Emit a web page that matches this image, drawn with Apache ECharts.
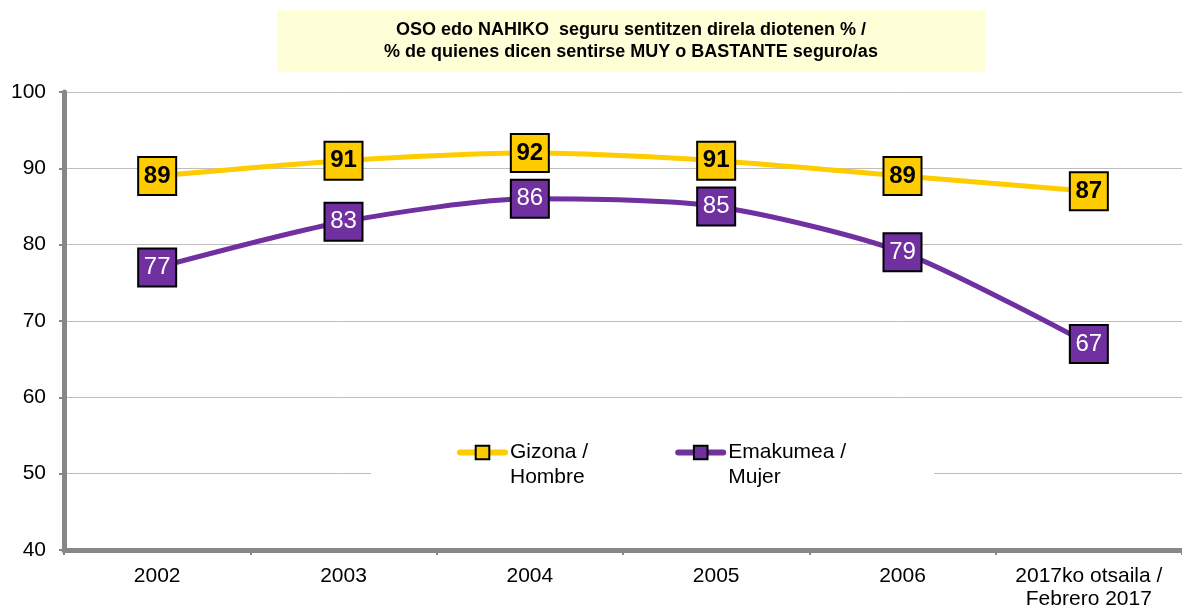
<!DOCTYPE html>
<html><head><meta charset="utf-8">
<script src="https://cdn.jsdelivr.net/npm/echarts@6/dist/echarts.min.js"></script>
<style>html,body{margin:0;padding:0;background:#fff}#c{width:1182px;height:611px}</style>
</head><body><div id="c"></div>
<script>
const categories = ['2002', '2003', '2004', '2005', '2006', '2017ko otsaila /\nFebrero 2017'];
const gizona = [89, 91, 92, 91, 89, 87];
const emakumea = [77, 83, 86, 85, 79, 67];
const seriesNames = ['Gizona /\nHombre', 'Emakumea /\nMujer'];
const titleLines = ['OSO edo NAHIKO  seguru sentitzen direla diotenen % /', '% de quienes dicen sentirse MUY o BASTANTE seguro/as'];

const chart = echarts.init(document.getElementById('c'), null, {renderer: 'canvas'});
const font = 'Liberation Sans, Arial, sans-serif';
chart.setOption({
  animation: false,
  backgroundColor: '#fff',
  textStyle: {fontFamily: font},
  graphic: [
    {type: 'rect', shape: {x: 277, y: 10, width: 708, height: 62}, style: {fill: '#FFFFD7'}, z: 0},
    {type: 'text', x: 631, y: 41, style: {text: titleLines.join('\n'), font: 'bold 18px ' + font, fill: '#000', align: 'center', verticalAlign: 'middle', lineHeight: 22}, z: 1}
  ],
  grid: {left: 64, width: 1126, top: 92, bottom: 60, containLabel: false},
  legend: {
    left: 371, top: 405,
    padding: [10, 88, 10, 86],
    backgroundColor: '#fff',
    itemGap: 87,
    itemWidth: 45, itemHeight: 17,
    formatter: function (name) { return '\n' + name; },
    lineStyle: {width: 6, cap: 'round'},
    textStyle: {fontSize: 21, color: '#000', fontFamily: font, lineHeight: 25},
    data: seriesNames,
    z: 10
  },
  xAxis: {
    type: 'category', data: categories, boundaryGap: true,
    axisLine: {lineStyle: {color: '#878787', width: 5}},
    axisTick: {show: true, interval: 0, length: 5, lineStyle: {color: '#878787', width: 2}},
    axisLabel: {interval: 0, hideOverlap: false, fontSize: 21, color: '#000', margin: 15, lineHeight: 23, fontFamily: font},
    splitLine: {show: false}
  },
  yAxis: {
    type: 'value', min: 40, max: 100, interval: 10,
    axisLine: {show: true, lineStyle: {color: '#878787', width: 5}},
    axisTick: {show: true, length: 5, lineStyle: {color: '#878787', width: 2}},
    axisLabel: {fontSize: 21, color: '#000', margin: 18, fontFamily: font},
    splitLine: {lineStyle: {color: '#BEBEBE', width: 1}}
  },
  series: [
    {
      name: seriesNames[0], type: 'line', data: gizona, smooth: 0.25,
      symbol: 'rect', symbolSize: [38, 38],
      lineStyle: {color: '#FFCC00', width: 5},
      itemStyle: {color: '#FFCC00', borderColor: '#000', borderWidth: 2},
      label: {show: true, position: 'inside', fontSize: 24, fontWeight: 'bold', color: '#000', fontFamily: font},
      z: 3
    },
    {
      name: seriesNames[1], type: 'line', data: emakumea, smooth: 0.25,
      symbol: 'rect', symbolSize: [38, 38],
      lineStyle: {color: '#7030A0', width: 5},
      itemStyle: {color: '#7030A0', borderColor: '#000', borderWidth: 2},
      label: {show: true, position: 'inside', fontSize: 24, color: '#fff', fontFamily: font},
      z: 3
    }
  ]
});
</script></body></html>
